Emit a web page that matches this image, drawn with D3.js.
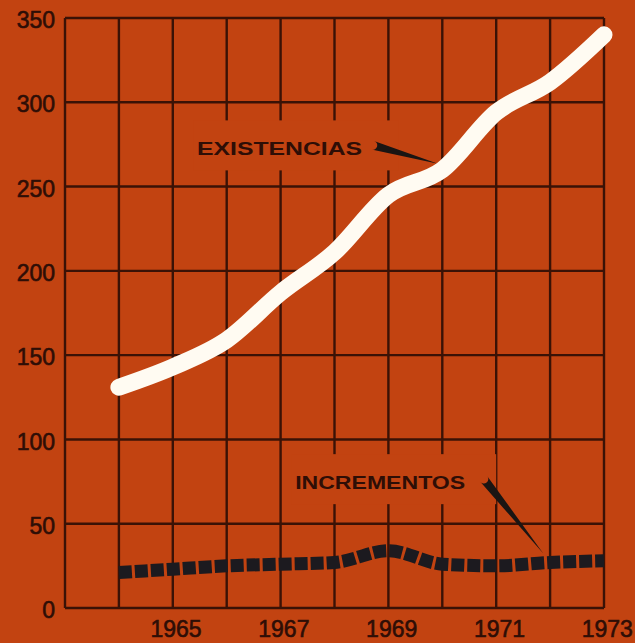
<!DOCTYPE html>
<html>
<head>
<meta charset="utf-8">
<script src="https://cdn.jsdelivr.net/npm/d3@7/dist/d3.min.js"></script>
<style>
  html, body { margin: 0; padding: 0; background: #c24311; }
  svg { display: block; }
</style>
</head>
<body>
<svg id="chart" width="635" height="643"></svg>
<script>
// ---- data ----
const years = [1964, 1965, 1966, 1967, 1968, 1969, 1970, 1971, 1972, 1973];
const existencias = [131, 143, 159, 187, 211, 245, 260, 294, 312, 340];
const incrementos = [21, 23, 25, 26, 27, 34, 26, 25, 27, 28];
const yTicks = [0, 50, 100, 150, 200, 250, 300, 350];
const xTickLabels = [1965, 1967, 1969, 1971, 1973];
const gridYears = [1963, 1964, 1965, 1966, 1967, 1968, 1969, 1970, 1971, 1972, 1973];
// annotations in data space: label start (year,value baseline), arrow tail, arrow tip
const annLabels = ["EXISTENCIAS", "INCREMENTOS"];
const annLabelPos = [[1965.45, 268.5], [1967.27, 70.5]];
const annTail = [[1968.71, 274.5], [1970.77, 76.5]];
const annTip = [[1969.92, 263.5], [1971.87, 32.5]];

// ---- layout ----
const W = 635, H = 643;
const m = { left: 65, right: 31, top: 18, bottom: 35 };
const BG = "#c24311", GRID = "#3a1206", INK = "#2e0e06";

const svg = d3.select("#chart");
const x = d3.scaleLinear().domain([1963, 1973]).range([m.left, W - m.right]);
const y = d3.scaleLinear().domain([0, 350]).range([H - m.bottom, m.top]);

svg.append("rect").attr("width", W).attr("height", H).attr("fill", BG);

// grid lines
const grid = svg.append("g");
grid.selectAll("line.v").data(gridYears).join("line")
  .attr("x1", d => x(d)).attr("x2", d => x(d))
  .attr("y1", y(0)).attr("y2", y(350))
  .attr("stroke", GRID).attr("stroke-width", 2.4);
grid.selectAll("line.h").data(yTicks).join("line")
  .attr("y1", d => y(d)).attr("y2", d => y(d))
  .attr("x1", x(1963)).attr("x2", x(1973))
  .attr("stroke", GRID).attr("stroke-width", 2.4);

// y axis labels
const yAxis = d3.axisLeft(y).tickValues(yTicks).tickSize(0).tickPadding(10);
const gy = svg.append("g").attr("transform", `translate(${m.left},0)`).call(yAxis);
gy.select(".domain").remove();
gy.selectAll("text")
  .attr("font-family", "'Liberation Sans', Arial, sans-serif")
  .attr("font-size", 23).attr("fill", INK)
  .attr("stroke", INK).attr("stroke-width", 0.6)
  .attr("dy", "0.42em");

// x axis labels
const xAxis = d3.axisBottom(x).tickValues(xTickLabels).tickFormat(d3.format("d")).tickSize(0).tickPadding(13);
const gx = svg.append("g").attr("transform", `translate(0,${y(0)})`).call(xAxis);
gx.select(".domain").remove();
gx.selectAll("text")
  .attr("font-family", "'Liberation Sans', Arial, sans-serif")
  .attr("font-size", 23).attr("fill", INK)
  .attr("stroke", INK).attr("stroke-width", 0.6)
  .attr("dx", "0.12em");

// annotation label backgrounds (break the grid behind the labels)
const annG = svg.append("g");
annLabels.forEach((t, i) => {
  const lx = x(annLabelPos[i][0]), ly = y(annLabelPos[i][1]);
  annG.append("rect")
    .attr("x", lx - 4).attr("y", ly - 35)
    .attr("width", 205).attr("height", 50)
    .attr("fill", BG);
});

// lines
const lineGen = d3.line().x((d, i) => x(years[i])).y(d => y(d)).curve(d3.curveMonotoneX);

svg.append("path").datum(existencias)
  .attr("d", lineGen)
  .attr("fill", "none").attr("stroke", "#fffbf2")
  .attr("stroke-width", 17).attr("stroke-linecap", "round").attr("stroke-linejoin", "round");

svg.append("path").datum(incrementos)
  .attr("d", lineGen)
  .attr("fill", "none").attr("stroke", "#1c1a1f")
  .attr("stroke-width", 13).attr("stroke-dasharray", "13,3");

// annotation text + tapered arrows
annLabels.forEach((t, i) => {
  const lx = x(annLabelPos[i][0]), ly = y(annLabelPos[i][1]);
  annG.append("text")
    .attr("x", lx).attr("y", ly)
    .attr("font-family", "'Liberation Sans', Arial, sans-serif")
    .attr("font-weight", "bold").attr("font-size", 19)
    .attr("fill", INK)
    .attr("textLength", i === 0 ? 165 : 170).attr("lengthAdjust", "spacingAndGlyphs")
    .text(t);
  const tx = x(annTail[i][0]), ty = y(annTail[i][1]);
  const px = x(annTip[i][0]), py = y(annTip[i][1]);
  const dx = px - tx, dy = py - ty, len = Math.hypot(dx, dy);
  const nx = -dy / len, ny = dx / len, r = 4.5;
  const p = d3.path();
  p.moveTo(tx + nx * r, ty + ny * r);
  p.lineTo(px, py);
  p.lineTo(tx - nx * r, ty - ny * r);
  p.arc(tx, ty, r, Math.atan2(-ny, -nx), Math.atan2(ny, nx), false);
  p.closePath();
  annG.append("path").attr("d", p.toString()).attr("fill", "#1a1513");
});
</script>
</body>
</html>
